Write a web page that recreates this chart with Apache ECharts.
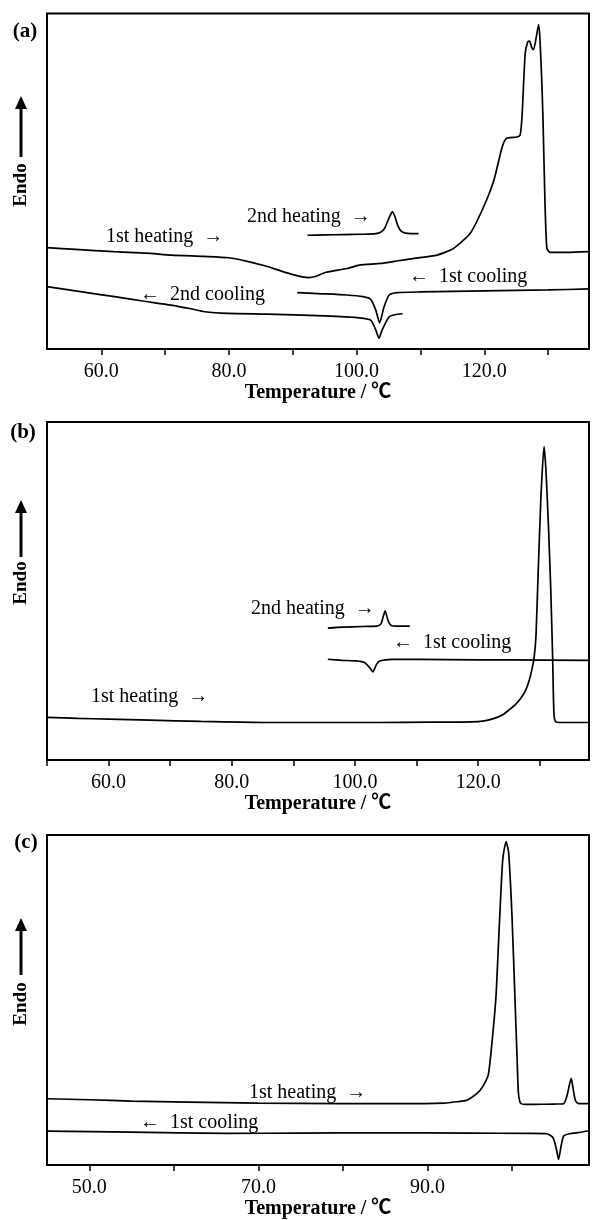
<!DOCTYPE html>
<html><head><meta charset="utf-8">
<script src="https://cdn.jsdelivr.net/npm/echarts@6/dist/echarts.min.js"></script>
<style>html,body{margin:0;padding:0;background:#fff}#c{width:592px;height:1220px}</style>
</head><body><div id="c"></div>
<script>
// ---------- Panel (a) ----------
const tA_heat1 = [51.5, 56, 62, 67, 71, 76, 80, 82.7, 85.6, 88.1, 90.2, 91.5, 92.5, 93.5, 95.1, 98.5, 100.4, 103.75, 106.5, 109, 112.6, 115.2, 117.8, 119.9, 121.5, 122.8, 123.5, 125.1, 125.6, 125.9, 126.4, 126.8, 127.1, 127.4, 127.7, 128.1, 128.5, 128.7, 129.0, 129.2, 129.5, 129.8, 130.3, 133, 136.4];
const vA_heat1 = [30.2, 29.7, 29.0, 28.6, 28.0, 27.6, 27.2, 26.2, 24.8, 23.3, 22.1, 21.5, 21.3, 21.6, 22.8, 24.0, 25.0, 25.5, 26.3, 27.0, 28.0, 30.0, 34.5, 42.4, 50.3, 60.2, 62.8, 63.2, 63.7, 69.0, 88.0, 91.5, 91.8, 90.0, 89.2, 92.5, 96.7, 93.0, 80.0, 68.0, 44.0, 30.0, 28.8, 28.8, 29.0];
const tA_heat2 = [92.3, 95, 98, 101, 103, 103.75, 104.4, 104.8, 105.3, 105.6, 106.0, 106.4, 106.9, 107.5, 108.5, 109.7];
const vA_heat2 = [33.9, 34.0, 34.1, 34.2, 34.4, 34.8, 36.0, 37.8, 40.0, 40.9, 39.5, 37.0, 35.3, 34.6, 34.4, 34.4];
const tA_cool1 = [90.7, 94, 98.5, 101, 102.2, 103, 103.6, 104.3, 105.1, 106.4, 110, 120, 130, 136.4];
const vA_cool1 = [16.8, 16.5, 16.1, 15.6, 14.8, 11.6, 7.8, 12.6, 16.1, 16.8, 17.0, 17.3, 17.6, 17.9];
const tA_cool2 = [51.5, 57, 62.1, 66.5, 70.9, 74, 76.2, 79.8, 86, 91.5, 96, 100.4, 102.2, 103.0, 103.5, 104.0, 105.1, 106, 107.2];
const vA_cool2 = [18.6, 17.0, 15.6, 14.3, 13.1, 12.0, 11.1, 10.6, 10.4, 10.1, 9.8, 9.3, 8.6, 5.7, 3.2, 5.7, 9.6, 10.2, 10.5];
const ticksA = [60, 70, 80, 90, 100, 110, 120, 130];
const labelsA = [60, 80, 100, 120];

// ---------- Panel (b) ----------
const tB_heat1 = [50, 55, 60, 66.7, 75, 85.2, 95, 103.6, 112, 118.9, 121, 122.6, 124, 125, 126, 126.9, 127.6, 128.2, 128.7, 129.1, 129.4, 129.7, 130.2, 130.7, 131.0, 131.4, 131.8, 132.1, 132.3, 132.6, 133.5, 138];
const vB_heat1 = [12.6, 12.3, 12.1, 11.8, 11.4, 11.1, 11.1, 11.1, 11.2, 11.3, 11.6, 12.3, 13.4, 14.8, 16.3, 18.2, 20.2, 23.0, 26.5, 30.5, 37.0, 53.0, 78.0, 92.7, 86.0, 70.0, 50.0, 30.0, 14.0, 11.3, 11.1, 11.1];
const tB_heat2 = [95.6, 98, 101.3, 103.5, 104.2, 104.6, 104.9, 105.35, 105.9, 107, 108.9];
const vB_heat2 = [39.0, 39.3, 39.5, 39.6, 40.2, 42.5, 44.1, 41.4, 39.8, 39.6, 39.6];
const tB_cool1 = [95.6, 98, 100.2, 101.6, 102.4, 102.9, 103.5, 104, 106, 115, 125, 138];
const vB_cool1 = [29.8, 29.5, 29.3, 28.8, 27.3, 26.1, 28.3, 29.3, 29.8, 29.7, 29.6, 29.5];
const ticksB = [50, 60, 70, 80, 90, 100, 110, 120, 130];
const labelsB = [60, 80, 100, 120];

// ---------- Panel (c) ----------
const tC_heat1 = [45, 50, 55, 61.7, 70, 79.6, 87, 92.0, 93.5, 94.6, 95.5, 96.2, 96.7, 97.2, 97.6, 98.1, 98.5, 98.9, 99.3, 99.6, 100.0, 100.35, 100.6, 100.75, 101.0, 101.5, 102.5, 105, 106.1, 106.5, 106.8, 107.0, 107.2, 107.5, 107.9, 109.1];
const vC_heat1 = [20.1, 19.8, 19.4, 19.1, 18.8, 18.6, 18.6, 18.8, 19.2, 19.6, 21.0, 22.6, 24.5, 27.5, 36.4, 51.2, 72.9, 92.6, 98.0, 94.6, 75.0, 50.0, 32.0, 22.0, 18.8, 18.4, 18.4, 18.5, 18.6, 21.0, 24.5, 26.3, 23.5, 19.5, 18.6, 18.6];
const tC_cool1 = [45, 55, 66.2, 75, 84, 95, 102, 104.1, 104.85, 105.25, 105.5, 105.8, 106.1, 106.8, 108, 109.1];
const vC_cool1 = [10.3, 10.0, 9.6, 9.7, 9.8, 9.7, 9.6, 9.5, 8.3, 4.8, 1.7, 5.8, 8.8, 9.5, 9.9, 10.4];
const ticksC = [50, 60, 70, 80, 90, 100];
const labelsC = [50, 70, 90];

const xTitle = 'Temperature / \u2103';
const yTitle = 'Endo';
const panelTags = ['(a)', '(b)', '(c)'];

// ---------- build ----------
const SERIF = '"Liberation Serif", "Times New Roman", "Noto Sans CJK JP", serif';
const zip = (t, v) => t.map((x, i) => [x, v[i]]);

const grids = [
  { left: 47, right: 3, top: 13.5, height: 335.5, min: 51.5, max: 136.4, ticks: ticksA, labels: labelsA },
  { left: 47, right: 3, top: 422, height: 338, min: 50, max: 138, ticks: ticksB, labels: labelsB },
  { left: 47, right: 3, top: 835, height: 338, min: 45, max: 109.1, ticks: ticksC, labels: labelsC }
];

const seriesDefs = [
  [0, tA_heat1, vA_heat1], [0, tA_heat2, vA_heat2], [0, tA_cool1, vA_cool1], [0, tA_cool2, vA_cool2],
  [1, tB_heat1, vB_heat1], [1, tB_heat2, vB_heat2], [1, tB_cool1, vB_cool1],
  [2, tC_heat1, vC_heat1], [2, tC_cool1, vC_cool1]
];

const option = {
  animation: false,
  backgroundColor: '#fff',
  grid: grids.map(g => ({ left: g.left, right: g.right, top: g.top, height: g.height, show: true, borderColor: '#000', borderWidth: 2, backgroundColor: 'transparent' })),
  xAxis: grids.map((g, i) => ({
    type: 'value', gridIndex: i, min: g.min, max: g.max,
    splitLine: { show: false },
    axisLine: { show: true, lineStyle: { color: '#000', width: 2 } },
    axisTick: { show: true, inside: false, length: 6, customValues: g.ticks, lineStyle: { color: '#000', width: 1.5 } },
    axisLabel: { show: true, customValues: g.labels, margin: 13, color: '#000', fontSize: 20, fontFamily: SERIF, formatter: v => Number(v).toFixed(1) },
    name: xTitle, nameLocation: 'middle', nameGap: 33,
    nameTextStyle: { color: '#000', fontSize: 20, fontWeight: 'bold', fontFamily: SERIF }
  })),
  yAxis: grids.map((g, i) => ({
    type: 'value', gridIndex: i, min: 0, max: 100, show: false
  })),
  series: seriesDefs.map(([gi, t, v]) => ({
    type: 'line', xAxisIndex: gi, yAxisIndex: gi, data: zip(t, v),
    showSymbol: false, smooth: 0.2, silent: true,
    lineStyle: { color: '#000', width: 1.7 }
  })),
  graphic: []
};

// panel tags, Endo arrows, annotations
const tagPos = [[25, 32], [23, 433], [26, 843]];
const endo = [
  { x: 21, head: 96, shaftEnd: 157, text: 185 },
  { x: 21, head: 500, shaftEnd: 557, text: 583 },
  { x: 21, head: 918, shaftEnd: 975, text: 1004 }
];
const notes = [
  ['2nd heating  \u2192', 247, 217], ['1st heating  \u2192', 106, 237],
  ['\u2190  1st cooling', 409, 277], ['\u2190  2nd cooling', 140, 295],
  ['2nd heating  \u2192', 251, 609], ['\u2190  1st cooling', 393, 643], ['1st heating  \u2192', 91, 697],
  ['1st heating  \u2192', 249, 1093], ['\u2190  1st cooling', 140, 1123]
];
const g = option.graphic;
panelTags.forEach((tag, i) => g.push({ type: 'text', x: tagPos[i][0], y: tagPos[i][1], style: { text: tag, font: 'bold 21px ' + SERIF, fill: '#000', align: 'center', verticalAlign: 'middle' } }));
endo.forEach(e => {
  g.push({ type: 'line', shape: { x1: e.x, y1: e.shaftEnd, x2: e.x, y2: e.head + 10 }, style: { stroke: '#000', lineWidth: 3 } });
  g.push({ type: 'polygon', shape: { points: [[e.x - 6, e.head + 13], [e.x + 6, e.head + 13], [e.x, e.head]] }, style: { fill: '#000' } });
  g.push({ type: 'text', x: e.x, y: e.text, rotation: Math.PI / 2, style: { text: yTitle, font: 'bold 19px ' + SERIF, fill: '#000', align: 'center', verticalAlign: 'middle' } });
});
notes.forEach(([txt, x, y]) => g.push({ type: 'text', x: x, y: y, style: { text: txt, font: '20px ' + SERIF, fill: '#000', align: 'left', verticalAlign: 'middle' } }));

const chart = echarts.init(document.getElementById('c'), null, { renderer: 'canvas' });
chart.setOption(option);
</script>
</body></html>
